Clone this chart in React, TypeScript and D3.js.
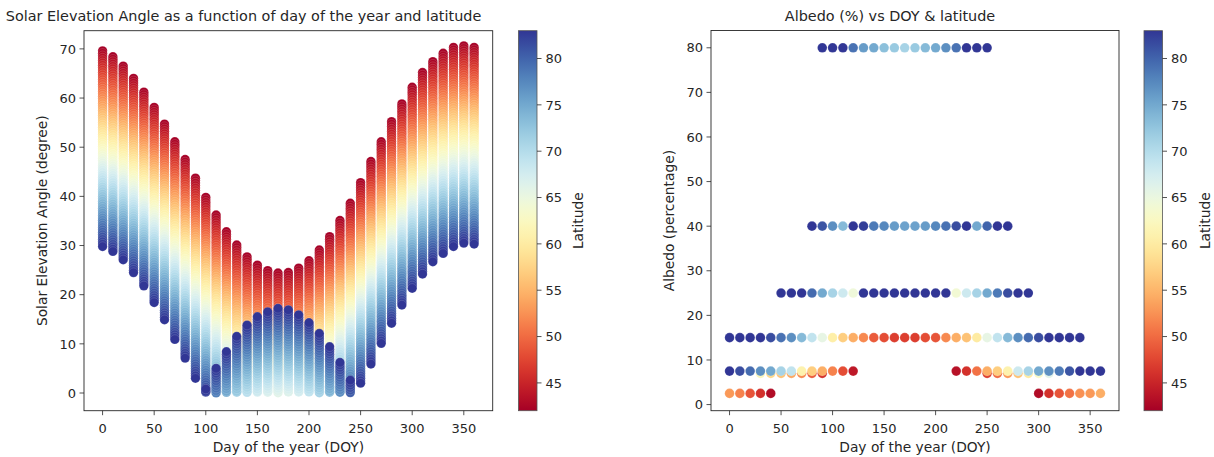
import React from "react";
import * as d3 from "d3";

// ---------- Data ----------
const DAYS = [0, 10, 20, 30, 40, 50, 60, 70, 80, 90, 100, 110, 120, 130, 140, 150, 160, 170, 180, 190, 200, 210, 220, 230, 240, 250, 260, 270, 280, 290, 300, 310, 320, 330, 340, 350, 360];
// elevation at the lowest latitude
const ELEV_AT_LAT_MIN = [69.6, 68.4, 66.5, 64.0, 61.2, 58.1, 54.7, 51.1, 47.5, 43.7, 39.8, 36.2, 32.8, 30.1, 27.7, 26.0, 24.9, 24.4, 24.5, 25.4, 26.9, 29.1, 31.8, 35.1, 38.6, 42.8, 47.1, 51.1, 55.2, 58.8, 62.2, 65.2, 67.4, 69.1, 70.3, 70.6, 70.3];
// signed elevation at the highest latitude (negative = folded below horizon, shown as |value|)
const ELEV_AT_LAT_MAX = [29.8, 28.8, 27.1, 24.5, 21.8, 18.4, 14.9, 10.9, 7.1, 3.0, -0.8, -5.0, -8.4, -11.5, -13.8, -15.5, -16.5, -17.2, -16.9, -15.9, -14.3, -12.1, -9.4, -6.2, -2.6, 2.0, 5.9, 10.1, 14.2, 17.9, 21.3, 24.2, 26.7, 28.4, 29.8, 30.5, 30.3];
const LAT_MIN = 42;
const LAT_MAX = 83;
const LATITUDES = d3.range(42, 83.01, 0.5);

const LEFT_X_TICKS = [0, 50, 100, 150, 200, 250, 300, 350];
const LEFT_Y_TICKS = [0, 10, 20, 30, 40, 50, 60, 70];
const RIGHT_Y_TICKS = [0, 10, 20, 30, 40, 50, 60, 70, 80];
const CBAR_TICKS = [45, 50, 55, 60, 65, 70, 75, 80];

// Albedo rows
const A80_DAYS = [90, 100, 110, 120, 130, 140, 150, 160, 170, 180, 190, 200, 210, 220, 230, 240, 250];
const A80_LATS = [83, 83, 83, 79, 76, 75, 73, 72, 71, 72, 73.5, 75, 77, 79, 83, 83, 83];
const A40_DAYS = [80, 90, 100, 110, 120, 130, 140, 150, 160, 170, 180, 190, 200, 210, 220, 230, 240, 250, 260, 270];
const A40_LATS = [83, 81, 77, 73.5, 83, 82.5, 78.5, 77.5, 76, 75.5, 75.5, 76, 77.5, 79, 81.5, 83, 75, 80, 83, 83];
const A25_DAYS = [50, 60, 70, 80, 90, 100, 110, 120, 130, 140, 150, 160, 170, 180, 190, 200, 210, 220, 230, 240, 250, 260, 270, 280, 290];
const A25_LATS = [83, 83, 83, 79.5, 75, 71, 68, 64.5, 83, 83, 83, 83, 83, 83, 83, 83, 83, 64, 68, 71, 75, 78.5, 81.5, 83, 83];
const A15_DAYS = [0, 10, 20, 30, 40, 50, 60, 70, 80, 90, 100, 110, 120, 130, 140, 150, 160, 170, 180, 190, 200, 210, 220, 230, 240, 250, 260, 270, 280, 290, 300, 310, 320, 330, 340];
const A15_LATS = [83, 83, 83, 83, 81.5, 79, 77, 73.5, 69, 65.5, 60.5, 57, 54.5, 52, 49, 48, 47, 47, 47, 48, 48.5, 52, 54.5, 56, 60, 65.5, 69, 73.5, 77, 79.5, 81.5, 83, 83, 83, 83];
const A7B_DAYS = [30, 40, 50, 60, 70, 80, 90, 250, 260, 270, 280, 290, 300, 310];
const A7B_LATS = [62, 58, 56, 54, 52, 49, 46, 47, 50, 53, 56, 60, 63, 66];
const A7_DAYS = [0, 10, 20, 30, 40, 50, 60, 70, 80, 90, 100, 110, 120, 220, 230, 240, 250, 260, 270, 280, 290, 300, 310, 320, 330, 340, 350, 360];
const A7_LATS = [83, 81.5, 79.5, 77, 75, 71, 69, 61, 57, 54.5, 51.5, 48, 44, 43.5, 46, 50.5, 54.5, 57, 61, 68, 71, 75, 77, 78.5, 81, 83, 83, 83];
const A2_DAYS = [0, 10, 20, 30, 40, 300, 310, 320, 330, 340, 350, 360];
const A2_LATS = [53, 51.5, 48.5, 46, 43, 43, 46, 48.5, 50.5, 52.5, 53, 54.5];

const ALBEDO_ROWS = [
  { albedo: 80, days: A80_DAYS, lats: A80_LATS },
  { albedo: 40, days: A40_DAYS, lats: A40_LATS },
  { albedo: 25, days: A25_DAYS, lats: A25_LATS },
  { albedo: 15, days: A15_DAYS, lats: A15_LATS },
  { albedo: 7.0, days: A7B_DAYS, lats: A7B_LATS },
  { albedo: 7.5, days: A7_DAYS, lats: A7_LATS },
  { albedo: 2.5, days: A2_DAYS, lats: A2_LATS },
];

// ---------- Layout ----------
const FONT = "DejaVu Sans, sans-serif";
const TXT = "#262626";
const TICK_FS = 13;
const LABEL_FS = 13.8;
const TITLE_FS = 14.4;
const TICK_LEN = 4.5;
const color = (lat: number) => d3.interpolateRdYlBu((lat - LAT_MIN) / (LAT_MAX - LAT_MIN));

const L = { x0: 84, x1: 492.7, y0: 30.7, y1: 410.7 };
const R = { x0: 711, x1: 1119, y0: 30.5, y1: 410.7 };

const lx = d3.scaleLinear().domain([-18, 378]).range([L.x0, L.x1]);
const ly = d3.scaleLinear().domain([-3.6, 73.7]).range([L.y1, L.y0]);
const rx = d3.scaleLinear().domain([-18, 378]).range([R.x0, R.x1]);
const ry = d3.scaleLinear().domain([-1.375, 83.875]).range([R.y1, R.y0]);

function Colorbar({ x, id, labelX }: { x: number; id: string; labelX: number }) {
  const w = 18.5;
  const cy = d3.scaleLinear().domain([LAT_MIN, LAT_MAX]).range([L.y1, L.y0]);
  const stops = d3.range(0, 1.0001, 0.02);
  return (
    <g>
      <defs>
        <linearGradient id={id} x1="0" y1="1" x2="0" y2="0">
          {stops.map((t) => (
            <stop key={t} offset={t} stopColor={d3.interpolateRdYlBu(t)} />
          ))}
        </linearGradient>
      </defs>
      <rect x={x} y={L.y0} width={w} height={L.y1 - L.y0} fill={`url(#${id})`} stroke="#555" strokeWidth={0.8} />
      {CBAR_TICKS.map((t) => (
        <g key={t}>
          <line x1={x + w} x2={x + w + TICK_LEN} y1={cy(t)} y2={cy(t)} stroke={TXT} strokeWidth={0.8} />
          <text x={x + w + 8.5} y={cy(t)} dy="0.36em" fontSize={TICK_FS} fontFamily={FONT} fill={TXT}>
            {t}
          </text>
        </g>
      ))}
      <text
        transform={`translate(${labelX},${(L.y0 + L.y1) / 2}) rotate(-90)`}
        textAnchor="middle"
        dy="0.36em"
        fontSize={LABEL_FS}
        fontFamily={FONT}
        fill={TXT}
      >
        Latitude
      </text>
    </g>
  );
}

export default function App() {
  const leftDots: { x: number; y: number; c: string; k: string }[] = [];
  DAYS.forEach((d, i) => {
    const top = ELEV_AT_LAT_MIN[i];
    const bot = ELEV_AT_LAT_MAX[i];
    LATITUDES.forEach((lat) => {
      const t = (lat - LAT_MIN) / (LAT_MAX - LAT_MIN);
      const e = Math.abs(top + (bot - top) * t);
      leftDots.push({ x: lx(d), y: ly(e), c: color(lat), k: `${d}-${lat}` });
    });
  });

  return (
    <svg width={1214} height={457} style={{ position: "absolute", left: 0, top: 0, background: "#fff" }}>
      {/* ---------- Left chart ---------- */}
      <text x={243.5} y={20.5} textAnchor="middle" fontSize={TITLE_FS} fontFamily={FONT} fill={TXT}>
        Solar Elevation Angle as a function of day of the year and latitude
      </text>
      <g>
        {leftDots.map((p) => (
          <circle key={p.k} cx={p.x} cy={p.y} r={4.7} fill={p.c} stroke="#fff" strokeWidth={0.25} strokeOpacity={0.6} />
        ))}
      </g>
      <rect x={L.x0} y={L.y0} width={L.x1 - L.x0} height={L.y1 - L.y0} fill="none" stroke={TXT} strokeWidth={0.9} />
      {LEFT_X_TICKS.map((t) => (
        <g key={t}>
          <line x1={lx(t)} x2={lx(t)} y1={L.y1} y2={L.y1 + TICK_LEN} stroke={TXT} strokeWidth={0.8} />
          <text x={lx(t)} y={L.y1 + 22} textAnchor="middle" fontSize={TICK_FS} fontFamily={FONT} fill={TXT}>
            {t}
          </text>
        </g>
      ))}
      {LEFT_Y_TICKS.map((t) => (
        <g key={t}>
          <line x1={L.x0 - TICK_LEN} x2={L.x0} y1={ly(t)} y2={ly(t)} stroke={TXT} strokeWidth={0.8} />
          <text x={L.x0 - 8} y={ly(t)} dy="0.36em" textAnchor="end" fontSize={TICK_FS} fontFamily={FONT} fill={TXT}>
            {t}
          </text>
        </g>
      ))}
      <text x={(L.x0 + L.x1) / 2} y={452} textAnchor="middle" fontSize={LABEL_FS} fontFamily={FONT} fill={TXT}>
        Day of the year (DOY)
      </text>
      <text
        transform={`translate(42,${(L.y0 + L.y1) / 2}) rotate(-90)`}
        textAnchor="middle"
        dy="0.36em"
        fontSize={LABEL_FS}
        fontFamily={FONT}
        fill={TXT}
      >
        Solar Elevation Angle (degree)
      </text>
      <Colorbar x={518.5} id="cbL" labelX={578} />

      {/* ---------- Right chart ---------- */}
      <text x={890} y={20.5} textAnchor="middle" fontSize={TITLE_FS} fontFamily={FONT} fill={TXT}>
        Albedo (%) vs DOY &amp; latitude
      </text>
      <g>
        {ALBEDO_ROWS.map((row) =>
          row.days.map((d, i) => (
            <circle
              key={`${row.albedo}-${d}`}
              cx={rx(d)}
              cy={ry(row.albedo)}
              r={4.8}
              fill={color(row.lats[i])}
              stroke="#fff"
              strokeWidth={0.25}
              strokeOpacity={0.6}
            />
          ))
        )}
      </g>
      <rect x={R.x0} y={R.y0} width={R.x1 - R.x0} height={R.y1 - R.y0} fill="none" stroke={TXT} strokeWidth={0.9} />
      {LEFT_X_TICKS.map((t) => (
        <g key={t}>
          <line x1={rx(t)} x2={rx(t)} y1={R.y1} y2={R.y1 + TICK_LEN} stroke={TXT} strokeWidth={0.8} />
          <text x={rx(t)} y={R.y1 + 22} textAnchor="middle" fontSize={TICK_FS} fontFamily={FONT} fill={TXT}>
            {t}
          </text>
        </g>
      ))}
      {RIGHT_Y_TICKS.map((t) => (
        <g key={t}>
          <line x1={R.x0 - TICK_LEN} x2={R.x0} y1={ry(t)} y2={ry(t)} stroke={TXT} strokeWidth={0.8} />
          <text x={R.x0 - 8} y={ry(t)} dy="0.36em" textAnchor="end" fontSize={TICK_FS} fontFamily={FONT} fill={TXT}>
            {t}
          </text>
        </g>
      ))}
      <text x={(R.x0 + R.x1) / 2} y={452} textAnchor="middle" fontSize={LABEL_FS} fontFamily={FONT} fill={TXT}>
        Day of the year (DOY)
      </text>
      <text
        transform={`translate(669,${(R.y0 + R.y1) / 2}) rotate(-90)`}
        textAnchor="middle"
        dy="0.36em"
        fontSize={LABEL_FS}
        fontFamily={FONT}
        fill={TXT}
      >
        Albedo (percentage)
      </text>
      <Colorbar x={1144} id="cbR" labelX={1205} />
    </svg>
  );
}
